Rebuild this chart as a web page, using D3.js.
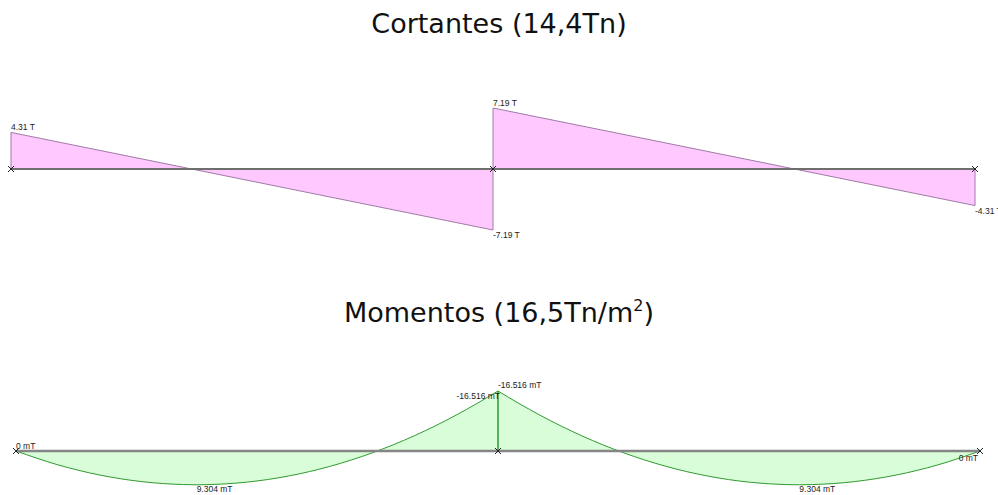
<!DOCTYPE html>
<html>
<head>
<meta charset="utf-8">
<script src="https://cdn.jsdelivr.net/npm/d3@7"></script>
<style>
  body { margin: 0; background: #fff; }
  svg { display: block; }
  .title { font-family: 'DejaVu Sans', Verdana, sans-serif; font-size: 27px; fill: #111; }
  .lbl { font-family: 'Liberation Sans', Arial, sans-serif; font-size: 8.5px; fill: #222; }
</style>
</head>
<body>
<svg id="chart"></svg>
<script>
// beam: two spans of 11.5 m
const supports = [0, 11.5, 23]

// shear diagram (T) at the span ends
const shearX = [0, 11.5, 11.5, 23]
const shearLeft = [4.31, -7.19]
const shearRight = [7.19, -4.31]
const shearLabels = ['4.31 T', '-7.19 T', '7.19 T', '-4.31 T']

// bending moment (mT), read along the beam
const momentX = [0, 1, 2, 3, 4, 4.31, 5, 6, 7, 8, 9, 10, 11, 11.5,
  12, 13, 14, 15, 16, 17, 18, 18.69, 19, 20, 21, 22, 23]
const momentV = [0, 3.81, 6.62, 8.43, 9.24, 9.304, 9.05, 7.86, 5.67, 2.48, -1.71, -6.9, -13.09, -16.516,
  -13.09, -6.9, -1.71, 2.48, 5.67, 7.86, 9.05, 9.304, 9.24, 8.43, 6.62, 3.81, 0]

const svg = d3.select('#chart')
  .attr('width', 998)
  .attr('height', 495)

// ---- Cortantes
svg.append('text').attr('class', 'title')
  .attr('x', 499).attr('y', 33)
  .attr('text-anchor', 'middle')
  .text('Cortantes (14,4Tn)')

const xs = d3.scaleLinear().domain([0, 23]).range([11, 975])
const ys = d3.scaleLinear().domain([-7.19, 7.19]).range([230, 108])

const shearPts = [
  [[0, 0], [0, shearLeft[0]], [11.5, shearLeft[1]], [11.5, 0]],
  [[11.5, 0], [11.5, shearRight[0]], [23, shearRight[1]], [23, 0]]
]
const area = d3.line().x(d => xs(d[0])).y(d => ys(d[1]))

svg.append('g').selectAll('path')
  .data(shearPts)
  .join('path')
  .attr('d', d => area(d) + 'Z')
  .attr('fill', '#ffc8ff')
  .attr('stroke', '#a07aa6')
  .attr('stroke-width', 1)

svg.append('line')
  .attr('x1', xs(0)).attr('x2', xs(23))
  .attr('y1', ys(0)).attr('y2', ys(0))
  .attr('stroke', '#6e6e6e').attr('stroke-width', 2)

const shearVals = [shearLeft[0], shearLeft[1], shearRight[0], shearRight[1]]
svg.append('g').selectAll('text')
  .data(shearVals)
  .join('text')
  .attr('class', 'lbl')
  .attr('x', (d, i) => xs(shearX[i]))
  .attr('y', d => d > 0 ? ys(d) - 2 : ys(d) + 8)
  .text((d, i) => shearLabels[i])

// ---- Momentos
const title2 = svg.append('text').attr('class', 'title')
  .attr('x', 499).attr('y', 322)
  .attr('text-anchor', 'middle')
title2.append('tspan').text('Momentos (16,5Tn/m')
title2.append('tspan').attr('dy', -11).attr('font-size', 16).text('2')
title2.append('tspan').attr('dy', 11).text(')')

const xm = d3.scaleLinear().domain([0, 23]).range([16, 980])
const ym = d3.scaleLinear().domain([-16.516, 0]).range([391, 451])

const momentPts = momentX.map((x, i) => [x, momentV[i]])
const mArea = d3.area()
  .x(d => xm(d[0])).y0(ym(0)).y1(d => ym(d[1]))
  .curve(d3.curveMonotoneX)
const mLine = d3.line()
  .x(d => xm(d[0])).y(d => ym(d[1]))
  .curve(d3.curveMonotoneX)

const spans = [momentPts.slice(0, 14), momentPts.slice(13)]
svg.append('g').selectAll('path')
  .data(spans)
  .join('path')
  .attr('d', mArea)
  .attr('fill', '#d9fdd9')

svg.append('g').selectAll('path')
  .data(spans)
  .join('path')
  .attr('d', mLine)
  .attr('fill', 'none')
  .attr('stroke', '#2f9a2f')
  .attr('stroke-width', 1)

svg.append('line')
  .attr('x1', xm(11.5)).attr('x2', xm(11.5))
  .attr('y1', ym(0)).attr('y2', ym(-16.516))
  .attr('stroke', '#2f9a2f').attr('stroke-width', 1.5)

svg.append('line')
  .attr('x1', xm(0)).attr('x2', xm(23))
  .attr('y1', ym(0)).attr('y2', ym(0))
  .attr('stroke', '#858585').attr('stroke-width', 2.5)

const momentLabels = [
  {x: 0, v: 0, t: '0 mT', anchor: 'start', dx: 0, dy: -2},
  {x: 11.5, v: -16.516, t: '-16.516 mT', anchor: 'end', dx: 2, dy: 8},
  {x: 11.5, v: -16.516, t: '-16.516 mT', anchor: 'start', dx: 0, dy: -3},
  {x: 4.31, v: 9.304, t: '9.304 mT', anchor: 'start', dx: 0, dy: 7},
  {x: 18.69, v: 9.304, t: '9.304 mT', anchor: 'start', dx: 0, dy: 7},
  {x: 23, v: 0, t: '0 mT', anchor: 'end', dx: -2, dy: 10}
]
svg.append('g').selectAll('text')
  .data(momentLabels)
  .join('text')
  .attr('class', 'lbl')
  .attr('text-anchor', d => d.anchor)
  .attr('x', d => xm(d.x) + d.dx)
  .attr('y', d => ym(d.v) + d.dy)
  .text(d => d.t)

// support crosses
const cross = (g, cx, cy) => {
  g.append('path')
    .attr('d', `M${cx - 3},${cy - 3}L${cx + 3},${cy + 3}M${cx - 3},${cy + 3}L${cx + 3},${cy - 3}`)
    .attr('stroke', '#222').attr('stroke-width', 1)
}
const marks = svg.append('g')
supports.forEach(s => {
  cross(marks, xs(s), ys(0))
  cross(marks, xm(s), ym(0))
})
</script>
</body>
</html>
